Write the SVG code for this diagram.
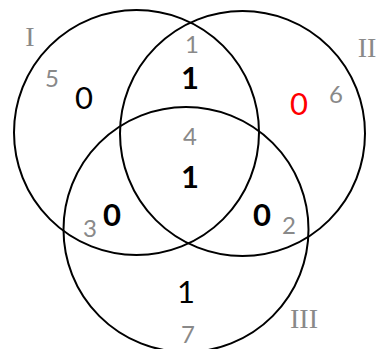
<svg xmlns="http://www.w3.org/2000/svg" width="382" height="349" viewBox="0 0 382 349">
<style>
.c{fill:none;stroke:#000;stroke-width:2}
.g{font-family:Lato,"Liberation Sans",sans-serif;font-size:24px;fill:#898989;text-anchor:middle}
.r{font-family:"Liberation Serif",serif;font-size:28px;fill:#898989;text-anchor:middle}
.b{font-family:Lato,"Liberation Sans",sans-serif;font-size:31px;fill:#000;text-anchor:middle}
.bb{font-weight:bold}
</style>
<rect width="382" height="349" fill="#fff"/>
<g id="circles">
<circle id="circleI" class="c" cx="136.5" cy="132.5" r="122.5"/>
<circle id="circleII" class="c" cx="242.5" cy="133.5" r="122.5"/>
<circle id="circleIII" class="c" cx="186" cy="229.5" r="122.5"/>
</g>
<g id="labels">
<text class="r" x="30" y="46">I</text>
<text class="r" x="367" y="57">II</text>
<text class="r" x="304" y="328">III</text>
</g>
<g id="region-numbers">
<text class="g" x="52" y="87">5</text>
<text class="g" x="192" y="53">1</text>
<text class="g" x="336" y="103">6</text>
<text class="g" x="190" y="145">4</text>
<text class="g" x="90" y="237">3</text>
<text class="g" x="289" y="234">2</text>
<text class="g" x="188" y="343">7</text>
</g>
<g id="values">
<text class="b" x="84" y="109">0</text>
<text class="b bb" x="190" y="89">1</text>
<text class="b" x="299" y="115" fill="#ff0000" style="fill:#ff0000">0</text>
<text class="b bb" x="190" y="188">1</text>
<text class="b bb" x="112" y="226">0</text>
<text class="b bb" x="262" y="226">0</text>
<text class="b" x="186" y="303">1</text>
</g>
</svg>
